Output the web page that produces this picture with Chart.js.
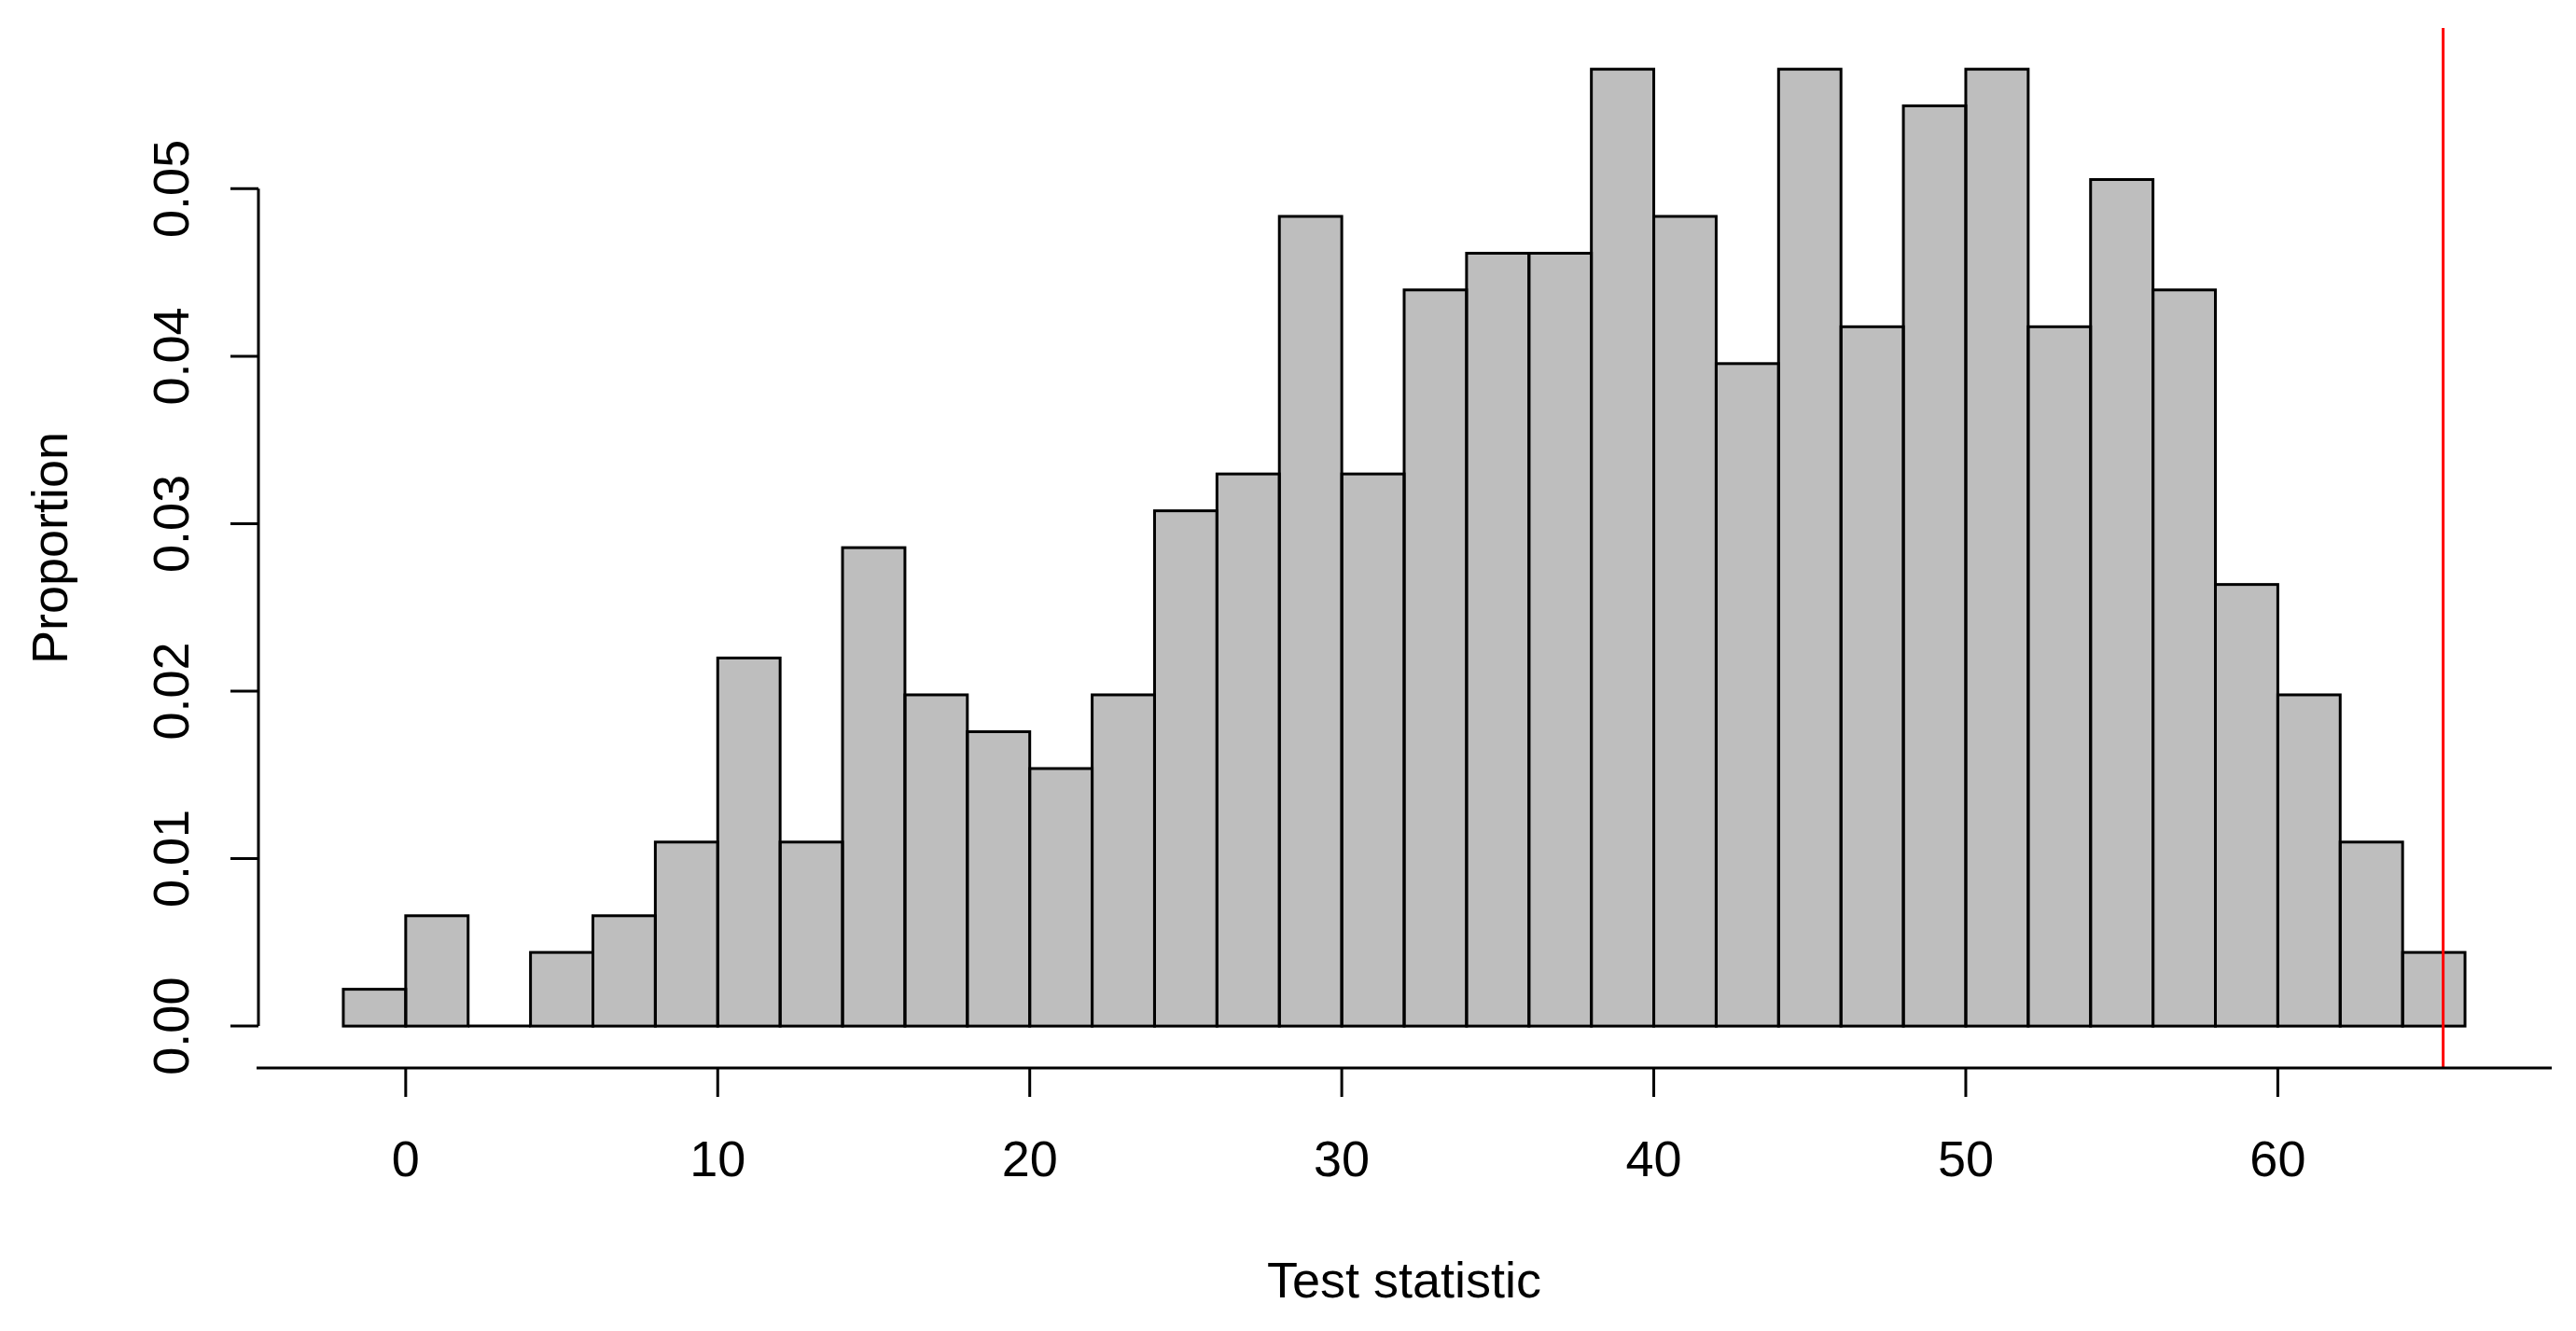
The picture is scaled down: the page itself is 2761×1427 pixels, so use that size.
<!DOCTYPE html>
<html>
<head>
<meta charset="utf-8">
<title>Test statistic</title>
<script src="https://cdn.jsdelivr.net/npm/chart.js@4/dist/chart.umd.min.js"></script>
<style>
  html, body { margin: 0; padding: 0; background: #fff; }
  #wrap { width: 2761px; height: 1427px; position: relative; }
</style>
</head>
<body>
<div id="wrap"><canvas id="histChart"></canvas></div>
<script>
// histogram bins, width 2, left edges
const binLeft = [-2, 0, 2, 4, 6, 8, 10, 12, 14, 16, 18, 20, 22, 24, 26, 28, 30,
                 32, 34, 36, 38, 40, 42, 44, 46, 48, 50, 52, 54, 56, 58, 60, 62, 64];
const binWidth = 2;
const proportion = [0.00220, 0.00659, 0, 0.00440, 0.00659, 0.01099, 0.02198, 0.01099,
                    0.02857, 0.01978, 0.01758, 0.01538, 0.01978, 0.03077, 0.03297, 0.04835,
                    0.03297, 0.04396, 0.04615, 0.04615, 0.05714, 0.04835, 0.03956, 0.05714,
                    0.04176, 0.05495, 0.05714, 0.04176, 0.05055, 0.04396, 0.02637, 0.01978,
                    0.01099, 0.00440];
const xTicks = [0, 10, 20, 30, 40, 50, 60];
const yTicks = [0, 0.01, 0.02, 0.03, 0.04, 0.05];
const yTickLabels = ['0.00', '0.01', '0.02', '0.03', '0.04', '0.05'];
const observedStat = 65.3;
const xTitle = 'Test statistic';
const yTitle = 'Proportion';

const FONT = '54px "Liberation Sans", Arial, sans-serif';

// R style axes, bar outlines and the red line
const rStyle = {
    id: 'rStyle',
    afterDatasetsDraw(chart) {
        const ctx = chart.ctx;
        const area = chart.chartArea;
        const xs = chart.scales.x;
        const ys = chart.scales.y;

        ctx.save();
        ctx.strokeStyle = '#000';
        ctx.lineWidth = 3;

        // outlines centred on the bar edges (like rect())
        chart.getDatasetMeta(0).data.forEach(bar => {
            const p = bar.getProps(['x', 'y', 'base', 'width'], true);
            ctx.strokeRect(p.x - p.width / 2, p.y, p.width, p.base - p.y);
        });

        // observed statistic
        const xr = xs.getPixelForValue(observedStat);
        ctx.strokeStyle = '#ff0000';
        ctx.beginPath();
        ctx.moveTo(xr, area.top);
        ctx.lineTo(xr, area.bottom);
        ctx.stroke();

        ctx.strokeStyle = '#000';
        ctx.fillStyle = '#000';
        ctx.font = FONT;

        // y axis: line only between first and last tick
        const y0 = ys.getPixelForValue(yTicks[0]);
        const y1 = ys.getPixelForValue(yTicks[yTicks.length - 1]);
        ctx.beginPath();
        ctx.moveTo(area.left, y0);
        ctx.lineTo(area.left, y1);
        yTicks.forEach(v => {
            const py = ys.getPixelForValue(v);
            ctx.moveTo(area.left - 30, py);
            ctx.lineTo(area.left, py);
        });
        ctx.stroke();

        ctx.textAlign = 'center';
        ctx.textBaseline = 'alphabetic';
        yTicks.forEach((v, i) => {
            ctx.save();
            ctx.translate(area.left - 75, ys.getPixelForValue(v));
            ctx.rotate(-Math.PI / 2);
            ctx.fillText(yTickLabels[i], 0, 0);
            ctx.restore();
        });

        // x axis along the bottom of the plot region
        ctx.beginPath();
        ctx.moveTo(area.left - 2, area.bottom);
        ctx.lineTo(area.right + 2, area.bottom);
        xTicks.forEach(v => {
            const px = xs.getPixelForValue(v);
            ctx.moveTo(px, area.bottom);
            ctx.lineTo(px, area.bottom + 31);
        });
        ctx.stroke();

        xTicks.forEach(v => {
            ctx.fillText(String(v), xs.getPixelForValue(v), area.bottom + 116);
        });

        // axis titles
        ctx.fillText(xTitle, (area.left + area.right) / 2, area.bottom + 246);
        ctx.save();
        ctx.translate(72, (area.top + area.bottom) / 2);
        ctx.rotate(-Math.PI / 2);
        ctx.fillText(yTitle, 0, 0);
        ctx.restore();

        ctx.restore();
    }
};

function TaoHistogram() {
    const ctx = document.getElementById('histChart').getContext('2d');
    const points = binLeft.map((b, i) => ({ x: b + binWidth / 2, y: proportion[i] }));

    return new Chart(ctx, {
        type: 'bar',
        data: {
            datasets: [{
                label: yTitle,
                data: points,
                backgroundColor: '#bebebe',
                borderWidth: 0,
                barPercentage: 1,
                categoryPercentage: 1
            }]
        },
        options: {
            responsive: true,
            maintainAspectRatio: false,
            animation: false,
            layout: { padding: { left: 277, right: 28, top: 30, bottom: 282 } },
            plugins: {
                legend: { display: false },
                tooltip: { enabled: false }
            },
            scales: {
                x: { type: 'linear', min: -4.72, max: 68.72, offset: false, display: false },
                y: { type: 'linear', min: -0.0025, max: 0.0596, display: false }
            }
        },
        plugins: [rStyle]
    });
}

TaoHistogram();
</script>
</body>
</html>
